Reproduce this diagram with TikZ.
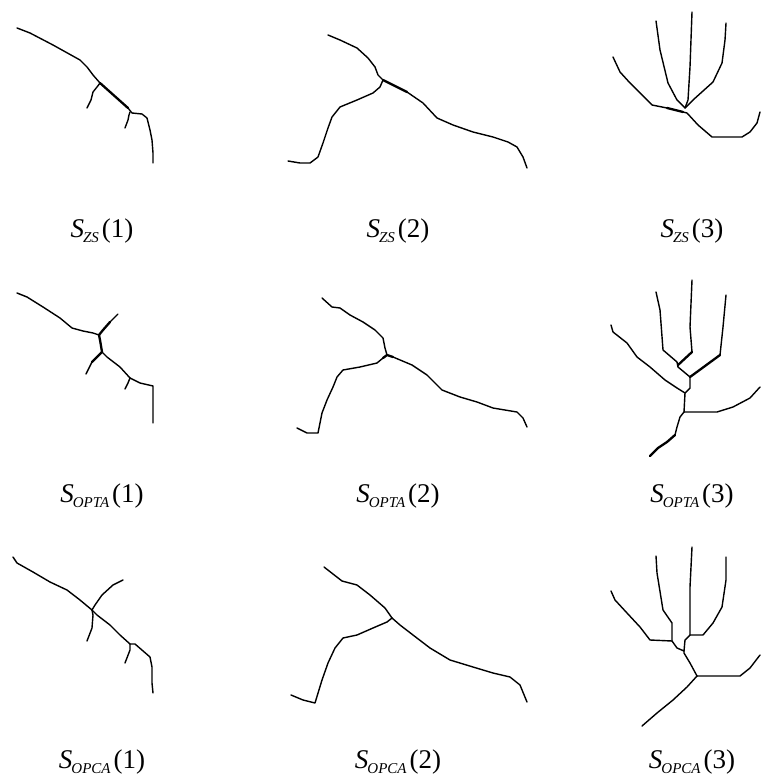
\documentclass[tikz,border=0pt]{standalone}
\usepackage{fontspec}
\setmainfont{Liberation Serif}
\begin{document}
\begin{tikzpicture}[x=1pt,y=-1pt,
  sk/.style={line width=1.4pt,line join=round,line cap=round},
  skb/.style={line width=2.3pt,line join=round,line cap=round},
  lab/.style={inner sep=0pt,font=\fontsize{27}{30}\selectfont}]
\useasboundingbox (0,0) rectangle (761,778);
\newcommand{\slab}[2]{\textit{S}\kern-1pt\raisebox{-5pt}{\fontsize{15}{16}\selectfont\itshape #1}\kern3pt(#2)}
% ---- Panel 1: S_ZS(1)
\draw[sk] (17,28) -- (30,33) -- (53,45) -- (80,60) -- (87,67) -- (93,75) -- (100,83);
\draw[skb] (100,83) -- (128,108);
\draw[sk] (128,108) -- (132,113) -- (142,114) -- (147,118) -- (150,130) -- (152,140) -- (153,153) -- (153,163);
\draw[sk] (100,83) -- (97,87) -- (93,92) -- (91,100) -- (87,108);
\draw[sk] (130,112) -- (129,115) -- (128,120) -- (125,128);
% ---- Panel 2: S_ZS(2)
\draw[sk] (328,35) -- (340,40) -- (357,48) -- (368,58) -- (375,67) -- (378,75) -- (383,80);
\draw[skb] (383,80) -- (393,85) -- (407,92);
\draw[sk] (407,92) -- (423,103) -- (437,118) -- (453,125) -- (473,132) -- (493,137) -- (508,142) -- (517,147) -- (523,157) -- (527,168);
\draw[sk] (383,80) -- (380,87) -- (373,93) -- (357,100) -- (340,107) -- (332,117) -- (328,128) -- (323,143) -- (318,157) -- (310,163) -- (300,163) -- (288,161);
% ---- Panel 3: S_ZS(3)
\draw[sk] (613,57) -- (620,72) -- (630,83) -- (640,93) -- (652,105) -- (667,108);
\draw[skb] (667,108) -- (683,112);
\draw[sk] (683,112) -- (687,113) -- (698,125) -- (712,137) -- (727,137) -- (742,137) -- (750,132) -- (757,123) -- (760,112);
\draw[sk] (685,108) -- (688,100) -- (690,67) -- (692,12);
\draw[sk] (685,108) -- (677,100) -- (668,83) -- (660,50) -- (656,21);
\draw[sk] (685,108) -- (693,100) -- (713,82) -- (722,63) -- (725,40) -- (726,23);
% ---- Panel 4: S_OPTA(1)
\draw[sk] (17,293) -- (27,297) -- (43,307) -- (60,318) -- (72,328) -- (83,331) -- (93,333) -- (99,335);
\draw[skb] (99,335) -- (103,330) -- (110,322);
\draw[sk] (110,322) -- (118,314);
\draw[skb] (99,335) -- (100,340) -- (102,352);
\draw[skb] (102,352) -- (97,357) -- (92,362);
\draw[sk] (92,362) -- (88,370) -- (86,374);
\draw[sk] (102,352) -- (107,357) -- (120,367) -- (130,378);
\draw[sk] (130,378) -- (128,383) -- (125,389);
\draw[sk] (130,378) -- (140,383) -- (153,386) -- (153,407) -- (153,413) -- (153,423);
% ---- Panel 5: S_OPTA(2)
\draw[sk] (322,298) -- (332,307) -- (340,308) -- (350,315) -- (363,322) -- (375,330) -- (383,338) -- (385,348) -- (387,355);
\draw[skb] (383,358) -- (387,355) -- (393,357);
\draw[sk] (383,358) -- (377,363) -- (360,367) -- (343,370) -- (337,377) -- (333,387) -- (327,400) -- (322,413) -- (318,433) -- (307,433) -- (297,428);
\draw[sk] (393,357) -- (412,365) -- (427,375) -- (442,390) -- (460,397) -- (477,402) -- (493,408) -- (517,412) -- (523,418) -- (527,427);
% ---- Panel 6: S_OPTA(3)
\draw[sk] (611,325) -- (613,332) -- (627,343) -- (637,357) -- (650,367) -- (665,380) -- (677,388) -- (685,393);
\draw[sk] (656,292) -- (660,310) -- (663,350) -- (677,362) -- (678,367);
\draw[sk] (692,280) -- (690,327) -- (692,352);
\draw[skb] (692,352) -- (678,365);
\draw[sk] (726,295) -- (723,327) -- (720,355);
\draw[skb] (720,355) -- (690,377);
\draw[sk] (678,367) -- (690,377) -- (690,388) -- (685,393) -- (684,412);
\draw[sk] (684,412) -- (702,412) -- (717,412) -- (733,407) -- (750,398) -- (760,387);
\draw[sk] (684,412) -- (680,417) -- (677,427) -- (675,435);
\draw[skb] (675,435) -- (667,442) -- (658,448) -- (650,456);
% ---- Panel 7: S_OPCA(1)
\draw[sk] (13,557) -- (17,563) -- (33,572) -- (50,582) -- (67,590) -- (80,600) -- (92,610);
\draw[sk] (92,610) -- (95,605) -- (102,595) -- (113,585) -- (123,580);
\draw[sk] (92,610) -- (93,615) -- (92,628) -- (87,641);
\draw[sk] (92,610) -- (97,615) -- (110,625) -- (120,635) -- (130,644);
\draw[sk] (130,644) -- (130,650) -- (125,663);
\draw[sk] (130,644) -- (135,644) -- (150,657) -- (152,667) -- (152,683) -- (153,693);
% ---- Panel 8: S_OPCA(2)
\draw[sk] (324,567) -- (342,581) -- (357,585) -- (370,595) -- (385,608) -- (392,618);
\draw[sk] (392,618) -- (387,622) -- (373,628) -- (357,635) -- (343,638) -- (335,648) -- (328,663) -- (322,680) -- (315,703) -- (303,700) -- (291,695);
\draw[sk] (392,618) -- (400,625) -- (413,635) -- (430,648) -- (450,660) -- (473,667) -- (493,673) -- (510,677) -- (520,685) -- (527,702);
% ---- Panel 9: S_OPCA(3)
\draw[sk] (611,591) -- (615,600) -- (627,613) -- (640,627) -- (650,640) -- (672,641);
\draw[sk] (656,556) -- (657,573) -- (663,610) -- (672,623) -- (672,641);
\draw[sk] (672,641) -- (677,648) -- (684,651);
\draw[sk] (692,547) -- (690,587) -- (690,635) -- (685,640) -- (684,651);
\draw[sk] (690,635) -- (703,635) -- (713,623) -- (722,607) -- (726,580) -- (726,557);
\draw[sk] (684,651) -- (684,653) -- (690,663) -- (697,676);
\draw[sk] (697,676) -- (740,676) -- (750,668) -- (760,655);
\draw[sk] (697,676) -- (687,687) -- (673,700) -- (657,713) -- (642,726);
% ---- Labels
\node[lab] (l1) at (102,231) {\slab{ZS}{1}};
\node[lab] (l2) at (398,231) {\slab{ZS}{2}};
\node[lab] (l3) at (692,231) {\slab{ZS}{3}};
\node[lab] (l4) at (102,496) {\slab{OPTA}{1}};
\node[lab] (l5) at (398,496) {\slab{OPTA}{2}};
\node[lab] (l6) at (692,496) {\slab{OPTA}{3}};
\node[lab] (l7) at (102,762) {\slab{OPCA}{1}};
\node[lab] (l8) at (398,762) {\slab{OPCA}{2}};
\node[lab] (l9) at (692,762) {\slab{OPCA}{3}};
\end{tikzpicture}
\end{document}
